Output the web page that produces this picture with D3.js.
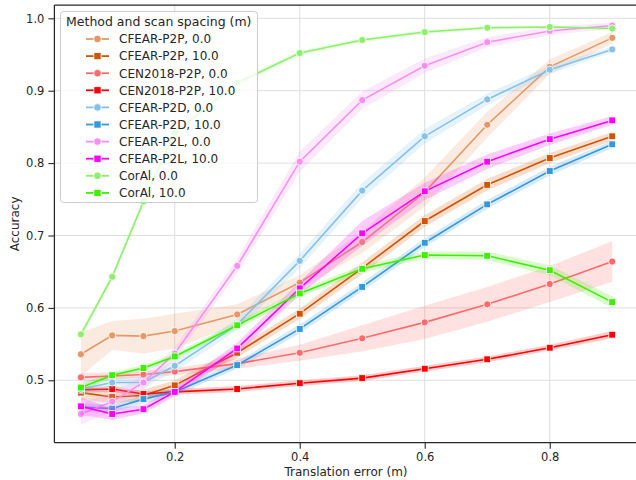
<!DOCTYPE html>
<html>
<head>
<meta charset="utf-8">
<script src="https://cdn.jsdelivr.net/npm/d3@7"></script>
<style>
  html, body { margin: 0; padding: 0; background: #fff; }
  svg { display: block; font-family: "DejaVu Sans", sans-serif; }
</style>
</head>
<body>
<svg id="chart" width="636" height="480"></svg>
<script>
// ---------------- data ----------------
const xValues = [0.05, 0.1, 0.15, 0.2, 0.3, 0.4, 0.5, 0.6, 0.7, 0.8, 0.9];

const seriesNames = [
  "CFEAR-P2P, 0.0", "CFEAR-P2P, 10.0",
  "CEN2018-P2P, 0.0", "CEN2018-P2P, 10.0",
  "CFEAR-P2D, 0.0", "CFEAR-P2D, 10.0",
  "CFEAR-P2L, 0.0", "CFEAR-P2L, 10.0",
  "CorAl, 0.0", "CorAl, 10.0"
];

const p2p0    = [0.536, 0.562, 0.561, 0.568, 0.591, 0.635, 0.691, 0.760, 0.853, 0.933, 0.973];
const p2p10   = [0.483, 0.477, 0.479, 0.493, 0.538, 0.592, 0.655, 0.720, 0.770, 0.807, 0.837];
const cen0    = [0.504, 0.506, 0.508, 0.512, 0.523, 0.538, 0.558, 0.580, 0.605, 0.633, 0.664];
const cen10   = [0.487, 0.488, 0.481, 0.484, 0.488, 0.496, 0.503, 0.516, 0.529, 0.545, 0.563];
const p2d0    = [0.488, 0.497, 0.497, 0.520, 0.577, 0.665, 0.762, 0.837, 0.888, 0.929, 0.957];
const p2d10   = [0.463, 0.461, 0.474, 0.484, 0.521, 0.571, 0.629, 0.690, 0.743, 0.789, 0.826];
const p2l0    = [0.4535, 0.4705, 0.497, 0.537, 0.658, 0.802, 0.887, 0.9345, 0.967, 0.9825, 0.990];
const p2l10   = [0.464, 0.4535, 0.460, 0.484, 0.544, 0.627, 0.703, 0.761, 0.802, 0.833, 0.859];
const coral0  = [0.5635, 0.643, 0.747, 0.842, 0.911, 0.952, 0.970, 0.981, 0.987, 0.988, 0.986];
const coral10 = [0.490, 0.507, 0.517, 0.533, 0.576, 0.620, 0.654, 0.673, 0.672, 0.652, 0.608];

// confidence-band half widths
const p2p0Ci    = [0.030, 0.020, 0.024, 0.024, 0.014, 0.010, 0.015, 0.020, 0.018, 0.010, 0.008];
const p2p10Ci   = [0.010, 0.008, 0.008, 0.007, 0.007, 0.007, 0.008, 0.008, 0.008, 0.007, 0.006];
const cen0Ci    = [0.006, 0.005, 0.005, 0.005, 0.007, 0.011, 0.018, 0.023, 0.024, 0.025, 0.028];
const cen10Ci   = [0.004, 0.004, 0.004, 0.004, 0.004, 0.004, 0.004, 0.004, 0.004, 0.004, 0.005];
const p2d0Ci    = [0.010, 0.008, 0.008, 0.008, 0.008, 0.010, 0.011, 0.010, 0.008, 0.006, 0.004];
const p2d10Ci   = [0.006, 0.005, 0.006, 0.005, 0.005, 0.006, 0.006, 0.006, 0.006, 0.006, 0.005];
const p2l0Ci    = [0.015, 0.013, 0.010, 0.008, 0.010, 0.014, 0.012, 0.010, 0.007, 0.006, 0.004];
const p2l10Ci   = [0.012, 0.008, 0.006, 0.006, 0.008, 0.009, 0.017, 0.012, 0.010, 0.008, 0.006];
const coral0Ci  = [0.004, 0.005, 0.005, 0.005, 0.004, 0.003, 0.003, 0.003, 0.002, 0.002, 0.002];
const coral10Ci = [0.005, 0.004, 0.004, 0.004, 0.005, 0.005, 0.005, 0.005, 0.006, 0.007, 0.008];

const xTicks = [0.2, 0.4, 0.6, 0.8];
const yTicks = [0.5, 0.6, 0.7, 0.8, 0.9, 1.0];

const colors = ["#e59866", "#d35400", "#ff6b6b", "#ff0000", "#85c1e9",
                "#3498db", "#f78ff2", "#ff00ff", "#8ef06a", "#3cf000"];
const shapes = ["circle", "square", "circle", "square", "circle",
                "square", "circle", "square", "circle", "square"];

const values = [p2p0, p2p10, cen0, cen10, p2d0, p2d10, p2l0, p2l10, coral0, coral10];
const cis = [p2p0Ci, p2p10Ci, cen0Ci, cen10Ci, p2d0Ci, p2d10Ci, p2l0Ci, p2l10Ci, coral0Ci, coral10Ci];

const series = seriesNames.map((name, i) => ({
  name, color: colors[i], shape: shapes[i],
  points: xValues.map((x, j) => ({ x, y: values[i][j], lo: values[i][j] - cis[i][j], hi: values[i][j] + cis[i][j] }))
}));

// ---------------- layout ----------------
const svg = d3.select("#chart");
const plot = { left: 54.4, right: 638.8, top: 5, bottom: 442.7 };
const x = d3.scaleLinear().domain([0.0075, 0.9425]).range([plot.left, plot.right]);
const y = d3.scaleLinear().domain([0.4138, 1.0184]).range([plot.bottom, plot.top]);
const textColor = "#262626";

// grid
const grid = svg.append("g");
grid.selectAll("line.gx").data(xTicks).join("line")
  .attr("x1", d => x(d)).attr("x2", d => x(d))
  .attr("y1", plot.top).attr("y2", plot.bottom)
  .attr("stroke", "#dddddd").attr("stroke-width", 1);
grid.selectAll("line.gy").data(yTicks).join("line")
  .attr("y1", d => y(d)).attr("y2", d => y(d))
  .attr("x1", plot.left).attr("x2", plot.right)
  .attr("stroke", "#dddddd").attr("stroke-width", 1);

// clip
svg.append("defs").append("clipPath").attr("id", "clip")
  .append("rect").attr("x", plot.left).attr("y", plot.top)
  .attr("width", plot.right - plot.left).attr("height", plot.bottom - plot.top);

const g = svg.append("g").attr("clip-path", "url(#clip)");
const area = d3.area().x(d => x(d.x)).y0(d => y(d.lo)).y1(d => y(d.hi));
const line = d3.line().x(d => x(d.x)).y(d => y(d.y));

series.forEach(s => {
  const sg = g.append("g");
  sg.append("path").datum(s.points).attr("d", area)
    .attr("fill", s.color).attr("fill-opacity", 0.2).attr("stroke", "none");
  sg.append("path").datum(s.points).attr("d", line)
    .attr("fill", "none").attr("stroke", s.color).attr("stroke-width", 1.6);
  if (s.shape === "circle") {
    sg.selectAll("circle").data(s.points).join("circle")
      .attr("cx", d => x(d.x)).attr("cy", d => y(d.y)).attr("r", 3.6)
      .attr("fill", s.color).attr("stroke", "#fff").attr("stroke-width", 0.8);
  } else {
    sg.selectAll("rect").data(s.points).join("rect")
      .attr("x", d => x(d.x) - 3.4).attr("y", d => y(d.y) - 3.4)
      .attr("width", 6.8).attr("height", 6.8)
      .attr("fill", s.color).attr("stroke", "#fff").attr("stroke-width", 0.8);
  }
});

// axes
const xAxis = svg.append("g").attr("transform", `translate(0,${plot.bottom})`)
  .call(d3.axisBottom(x).tickValues(xTicks).tickFormat(d3.format(".1f")).tickSize(6).tickPadding(4));
const yAxis = svg.append("g").attr("transform", `translate(${plot.left},0)`)
  .call(d3.axisLeft(y).tickValues(yTicks).tickFormat(d3.format(".1f")).tickSize(6).tickPadding(4));
[xAxis, yAxis].forEach(a => {
  a.select(".domain").remove();
  a.selectAll("line").attr("stroke", textColor).attr("stroke-width", 1.1);
  a.selectAll("text").attr("fill", textColor).style("font-size", "11.5px")
    .style("font-family", "DejaVu Sans, sans-serif");
});

// spines (left, bottom, top; right falls outside the picture)
svg.append("line").attr("x1", plot.left).attr("x2", plot.left).attr("y1", plot.top).attr("y2", plot.bottom)
  .attr("stroke", textColor).attr("stroke-width", 1.25);
svg.append("line").attr("x1", plot.left).attr("x2", plot.right).attr("y1", plot.bottom).attr("y2", plot.bottom)
  .attr("stroke", textColor).attr("stroke-width", 1.25);
svg.append("line").attr("x1", plot.left).attr("x2", plot.right).attr("y1", plot.top).attr("y2", plot.top)
  .attr("stroke", textColor).attr("stroke-width", 1.25);

// axis titles
svg.append("text").attr("x", 346).attr("y", 476).attr("text-anchor", "middle")
  .attr("fill", textColor).style("font-size", "12px").text("Translation error (m)");
svg.append("text").attr("transform", `translate(19,${(plot.top + plot.bottom) / 2}) rotate(-90)`)
  .attr("text-anchor", "middle").attr("fill", textColor).style("font-size", "12px").text("Accuracy");

// legend
const lg = svg.append("g");
lg.append("rect").attr("x", 60.5).attr("y", 11.5).attr("width", 197).attr("height", 191)
  .attr("rx", 3).attr("fill", "#fff").attr("fill-opacity", 0.8)
  .attr("stroke", "#cccccc").attr("stroke-width", 1);
lg.append("text").attr("x", 66).attr("y", 26).attr("fill", textColor)
  .style("font-size", "12.5px").text("Method and scan spacing (m)");
series.forEach((s, i) => {
  const cy = 39 + i * 17.1;
  lg.append("line").attr("x1", 86).attr("x2", 109).attr("y1", cy).attr("y2", cy)
    .attr("stroke", s.color).attr("stroke-width", 1.8);
  if (s.shape === "circle") {
    lg.append("circle").attr("cx", 97.5).attr("cy", cy).attr("r", 3.8)
      .attr("fill", s.color).attr("stroke", "#fff").attr("stroke-width", 0.8);
  } else {
    lg.append("rect").attr("x", 97.5 - 3.6).attr("y", cy - 3.6).attr("width", 7.2).attr("height", 7.2)
      .attr("fill", s.color).attr("stroke", "#fff").attr("stroke-width", 0.8);
  }
  lg.append("text").attr("x", 119).attr("y", cy + 4.3).attr("fill", textColor)
    .style("font-size", "12px").text(s.name);
});
</script>
</body>
</html>
